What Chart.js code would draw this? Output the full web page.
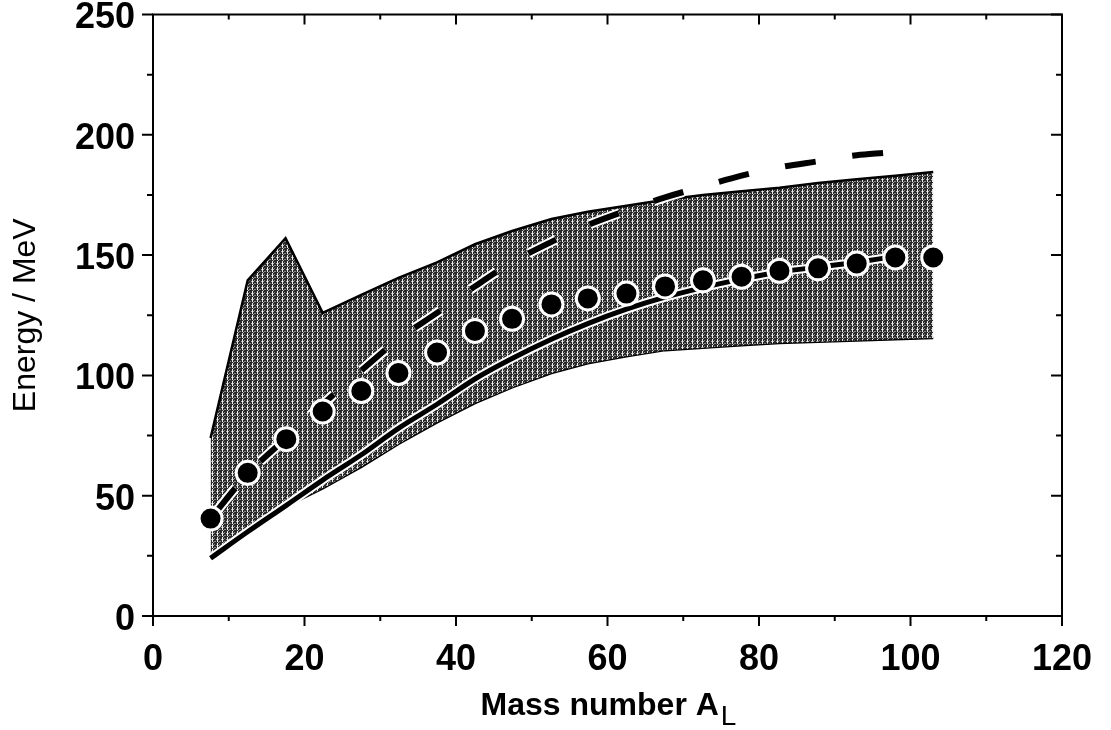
<!DOCTYPE html>
<html>
<head>
<meta charset="utf-8">
<script src="https://cdn.jsdelivr.net/npm/chart.js@4/dist/chart.umd.min.js"></script>
<style>
  html, body { margin: 0; padding: 0; background: #fff; }
  #wrap { width: 1111px; height: 730px; }
</style>
</head>
<body>
<div id="wrap"><canvas id="chart" width="1111" height="730"></canvas></div>
<script>
// values
const bandX = [7.6, 12.5, 17.5, 22.4, 27.5, 32.4, 37.5, 42.5, 47.4, 52.6, 57.4, 62.5, 67.6, 72.6, 77.7, 82.7, 87.8, 92.9, 98, 103];
const bandUpper = [74, 139.5, 157, 126, 133.5, 140.5, 147, 154.5, 160, 165, 168, 170.5, 173, 175, 176.5, 178, 180, 181.5, 183, 184.5];
const bandLower = [24, 35, 45.5, 53, 62, 71.5, 80.5, 88.5, 95, 101, 105, 108, 110.5, 111.5, 112.5, 113.5, 114, 114.5, 115, 115.5];

const solidX = [7.6, 12.5, 17.6, 22.4, 27.5, 32.4, 37.5, 42.5, 47.4, 52.6, 57.4, 62.5, 67.6, 72.6, 77.7, 82.7, 87.8, 92.9, 98];
const solidY = [24, 35, 46, 56.5, 67, 78, 88, 98.5, 107, 115, 121.5, 127.5, 132.5, 136.5, 140, 143, 145, 147, 149.5];

const dashX = [7.6, 12.5, 17.6, 22.4, 27.5, 32.4, 37.5, 42.5, 47.4, 52.6, 57.4, 62.5, 67.6, 72.6, 77.7, 82.7, 87.8, 92.9, 96.6];
const dashY = [40.5, 59, 74, 88, 102, 115, 126, 137, 147, 155.5, 162.5, 168.5, 174, 178.5, 183, 186.5, 189, 191.5, 192.5];

const dotX = [7.6, 12.5, 17.6, 22.4, 27.5, 32.4, 37.5, 42.5, 47.4, 52.6, 57.4, 62.5, 67.6, 72.6, 77.7, 82.7, 87.8, 92.9, 98, 103];
const dotY = [40.5, 59.5, 73.5, 85, 93.5, 101, 109.5, 118.5, 123.5, 129.5, 132, 134, 137, 139.5, 141, 143.5, 144.5, 146.5, 149, 149];

const xTickStep = 10;
const yTickStep = 25;

const pts = (xs, ys) => xs.map((x, i) => ({ x: x, y: ys[i] }));

// hatched grey fill of the band
function hatchPattern() {
    const c = document.createElement('canvas');
    c.width = 5;
    c.height = 6;
    const g = c.getContext('2d');
    g.fillStyle = '#2a2a2a';
    g.fillRect(0, 0, 5, 6);
    g.fillStyle = '#ececec';
    [0, 1, 3, 4, 5].forEach((r) => g.fillRect(2, r, 1, 1));
    g.fillStyle = '#b0b0b0';
    g.fillRect(3, 2, 1, 1);
    g.fillRect(1, 5, 1, 1);
    g.fillRect(3, 5, 1, 1);
    g.fillStyle = '#8a8a8a';
    g.fillRect(0, 1, 1, 1);
    g.fillRect(4, 4, 1, 1);
    g.fillRect(4, 1, 1, 1);
    return g.createPattern(c, 'repeat');
}

const frame = {
    id: 'frame',
    afterDraw(chart) {
        const { ctx, chartArea: a, scales } = chart;
        ctx.save();
        ctx.strokeStyle = '#000';
        ctx.lineWidth = 2;
        ctx.strokeRect(a.left, a.top, a.right - a.left, a.bottom - a.top);

        ctx.beginPath();
        scales.x.ticks.forEach((t) => {
            const px = scales.x.getPixelForValue(t.value);
            const len = t.value % 20 === 0 ? 10 : 5;
            ctx.moveTo(px, a.bottom);
            ctx.lineTo(px, a.bottom + len);
            ctx.moveTo(px, a.top);
            ctx.lineTo(px, a.top + len);
        });
        scales.y.ticks.forEach((t) => {
            const py = scales.y.getPixelForValue(t.value);
            const len = t.value % 50 === 0 ? 11 : 6;
            ctx.moveTo(a.left, py);
            ctx.lineTo(a.left - len, py);
            ctx.moveTo(a.right, py);
            ctx.lineTo(a.right - len, py);
        });
        ctx.stroke();

        // axis titles
        ctx.fillStyle = '#000';
        ctx.font = '32px "Liberation Sans", Arial, sans-serif';
        ctx.textAlign = 'center';
        ctx.textBaseline = 'middle';
        ctx.save();
        ctx.translate(26, (a.top + a.bottom) / 2);
        ctx.rotate(-Math.PI / 2);
        ctx.fillText('Energy / MeV', 0, 0);
        ctx.restore();

        ctx.font = 'bold 32px "Liberation Sans", Arial, sans-serif';
        ctx.textAlign = 'left';
        ctx.textBaseline = 'alphabetic';
        const main = 'Mass number A';
        const w = ctx.measureText(main).width;
        ctx.font = '28px "Liberation Sans", Arial, sans-serif';
        const ws = ctx.measureText('L').width;
        const x0 = (a.left + a.right) / 2 - (w + ws) / 2;
        ctx.font = 'bold 32px "Liberation Sans", Arial, sans-serif';
        ctx.fillText(main, x0, 715);
        ctx.font = '28px "Liberation Sans", Arial, sans-serif';
        ctx.fillText('L', x0 + w + 2, 725);
        ctx.restore();
    }
};

const noPad = (scale) => {
    scale.paddingTop = 0;
    scale.paddingBottom = 0;
    scale.paddingLeft = 0;
    scale.paddingRight = 0;
};

const tickFont = { family: '"Liberation Sans", Arial, sans-serif', size: 36, weight: 'bold' };

new Chart(document.getElementById('chart').getContext('2d'), {
    type: 'line',
    data: {
        datasets: [
            {
                data: pts(bandX, bandLower),
                borderColor: '#000',
                borderWidth: 2.5,
                pointRadius: 0,
                tension: 0,
                fill: false,
                order: 10,
            },
            {
                data: pts(bandX, bandUpper),
                borderColor: '#000',
                borderWidth: 2.5,
                pointRadius: 0,
                tension: 0,
                fill: '-1',
                backgroundColor: hatchPattern(),
                order: 9,
            },
            {
                // white halo under the solid curve
                data: pts(solidX, solidY),
                borderColor: '#fff',
                borderWidth: 9,
                pointRadius: 0,
                cubicInterpolationMode: 'monotone',
                order: 8,
            },
            {
                data: pts(solidX, solidY),
                borderColor: '#000',
                borderWidth: 5,
                pointRadius: 0,
                cubicInterpolationMode: 'monotone',
                order: 7,
            },
            {
                data: pts(dashX, dashY),
                borderColor: '#fff',
                borderWidth: 10,
                borderDash: [31, 37],
                borderDashOffset: -8,
                pointRadius: 0,
                cubicInterpolationMode: 'monotone',
                order: 6,
            },
            {
                data: pts(dashX, dashY),
                borderColor: '#000',
                borderWidth: 6,
                borderDash: [31, 37],
                borderDashOffset: -8,
                pointRadius: 0,
                cubicInterpolationMode: 'monotone',
                order: 5,
            },
            {
                data: pts(dotX, dotY),
                showLine: false,
                pointRadius: 11.5,
                pointBackgroundColor: '#000',
                pointBorderColor: '#fff',
                pointBorderWidth: 3,
                order: 1,
            },
        ],
    },
    options: {
        responsive: false,
        animation: false,
        events: [],
        layout: { padding: { top: 13, right: 49, left: 0, bottom: 0 } },
        plugins: {
            legend: { display: false },
            tooltip: { enabled: false },
        },
        scales: {
            x: {
                type: 'linear',
                min: 0,
                max: 120,
                ticks: {
                    stepSize: xTickStep,
                    autoSkip: false,
                    maxRotation: 0,
                    padding: 22,
                    color: '#000',
                    font: tickFont,
                    callback: (v) => (v % 20 === 0 ? v : ''),
                },
                grid: { drawOnChartArea: false, drawTicks: false },
                border: { display: false },
                afterFit: (scale) => { scale.height = 114; noPad(scale); },
            },
            y: {
                type: 'linear',
                min: 0,
                max: 250,
                ticks: {
                    stepSize: yTickStep,
                    autoSkip: false,
                    padding: 18,
                    labelOffset: 4,
                    color: '#000',
                    font: tickFont,
                    callback: (v) => (v % 50 === 0 ? v : ''),
                },
                grid: { drawOnChartArea: false, drawTicks: false },
                border: { display: false },
                afterFit: (scale) => { scale.width = 153; noPad(scale); },
            },
        },
    },
    plugins: [frame],
});
</script>
</body>
</html>
